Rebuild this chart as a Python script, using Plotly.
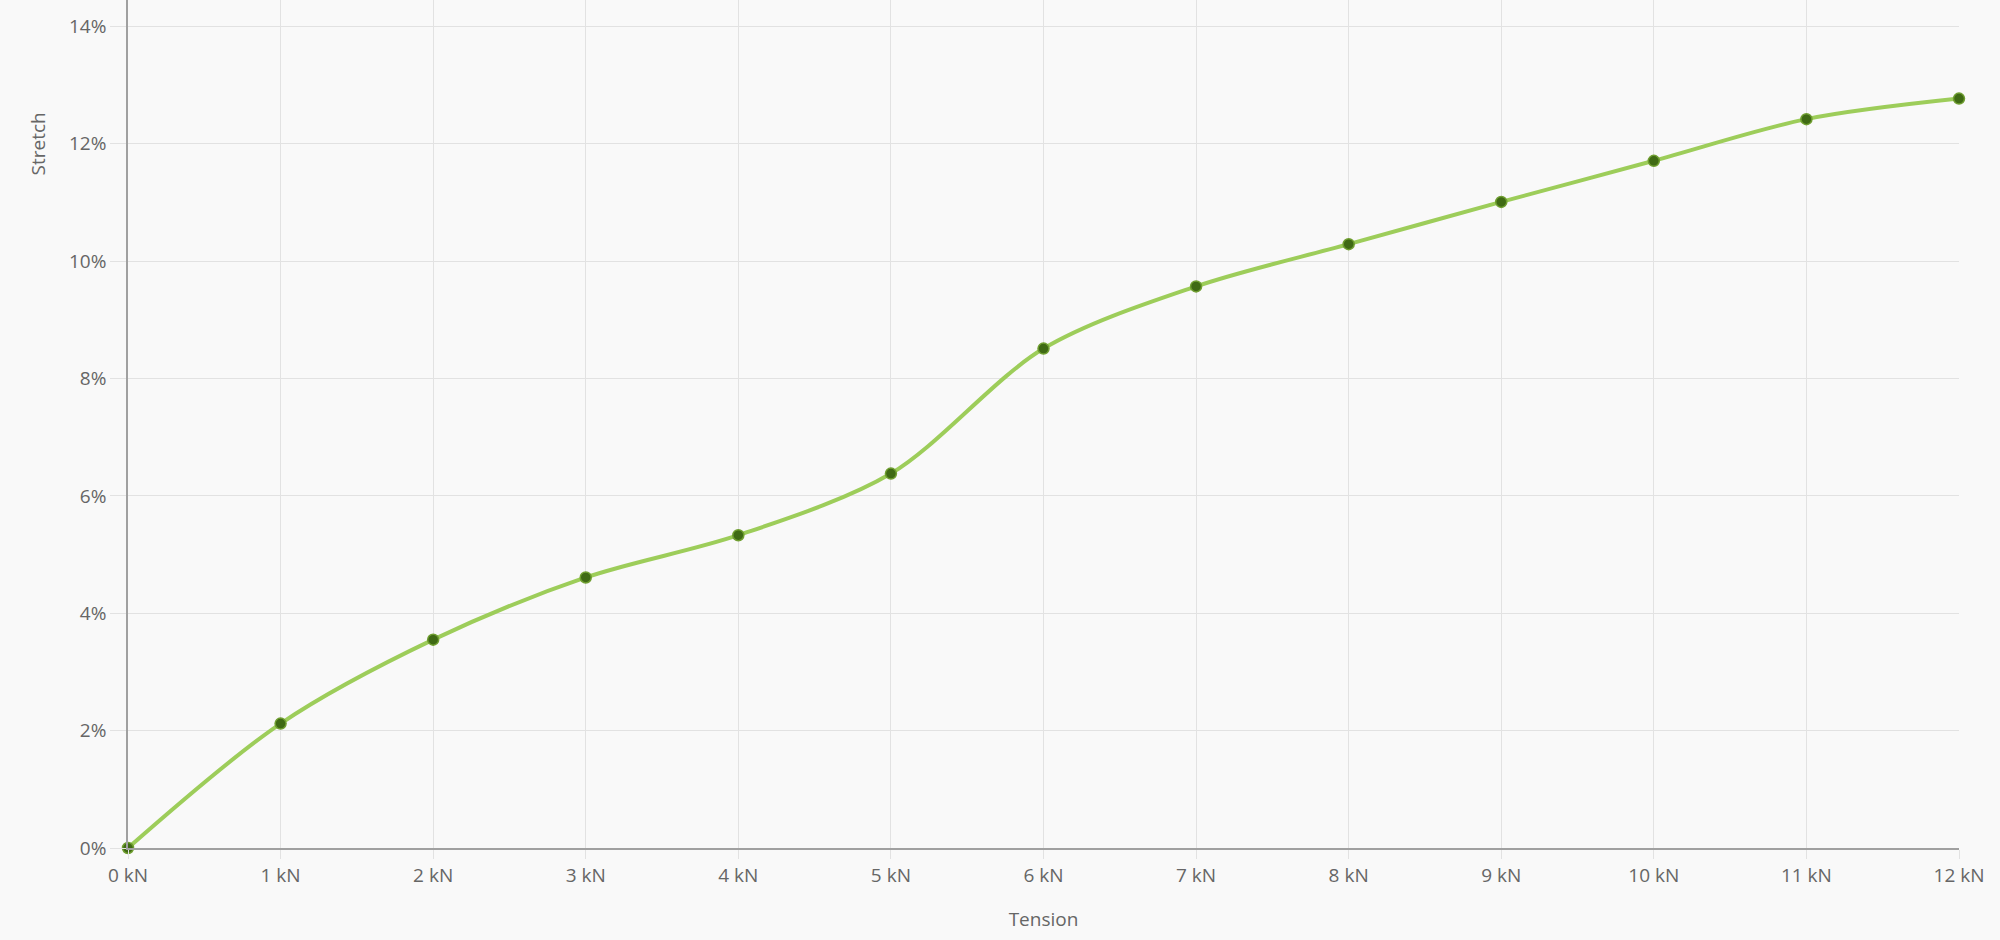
import plotly.graph_objects as go

tension_kn = [0, 1, 2, 3, 4, 5, 6, 7, 8, 9, 10, 11, 12]
stretch_pct = [0, 2.12, 3.55, 4.61, 5.33, 6.38, 8.51, 9.57, 10.29, 11.01, 11.71, 12.42, 12.77]

x_ticks = list(range(0, 13))
x_labels = [f"{v} kN" for v in x_ticks]
y_ticks = [0, 2, 4, 6, 8, 10, 12, 14]
y_labels = [f"{v}%" for v in y_ticks]

fig = go.Figure()
fig.add_trace(go.Scatter(
    x=tension_kn, y=stretch_pct, mode="lines+markers",
    line=dict(color="#9dcd5a", width=4, shape="spline", smoothing=0.9),
    marker=dict(color="#3f6a14", size=11, line=dict(color="#6f9e30", width=1.5)),
    cliponaxis=False, showlegend=False,
))

font_color = "#666666"
fig.update_layout(
    width=2000, height=940,
    paper_bgcolor="#f9f9f9", plot_bgcolor="#f9f9f9",
    margin=dict(l=128, r=41, t=0, b=92),
    font=dict(family="Open Sans", size=19, color=font_color),
    xaxis=dict(
        range=[0, 12], tickvals=x_ticks, ticktext=x_labels,
        showgrid=True, gridcolor="#e2e2e2", gridwidth=1,
        ticks="outside", ticklen=9, tickcolor="#e2e2e2",
        showline=True, linecolor="#a0a0a0", linewidth=1.5,
        zeroline=False,
        title=dict(text="Tension", standoff=26, font=dict(size=19, color=font_color)),
    ),
    yaxis=dict(
        range=[0, 14.45], tickvals=y_ticks, ticktext=y_labels,
        showgrid=True, gridcolor="#e2e2e2", gridwidth=1,
        ticks="outside", ticklen=16, tickcolor="#e2e2e2",
        showline=True, linecolor="#a0a0a0", linewidth=1.5,
        zeroline=False,
    ),
    annotations=[dict(
        text="Stretch", textangle=-90, showarrow=False,
        xref="paper", yref="paper", x=0, y=0.8296,
        xanchor="center", yanchor="middle", xshift=-90,
        font=dict(size=19, color=font_color),
    )],
)

fig.write_html(
    "out.html",
    config={"displayModeBar": False},
    post_script="document.body.style.margin='0';document.body.style.padding='0';document.body.style.overflow='hidden';",
)
